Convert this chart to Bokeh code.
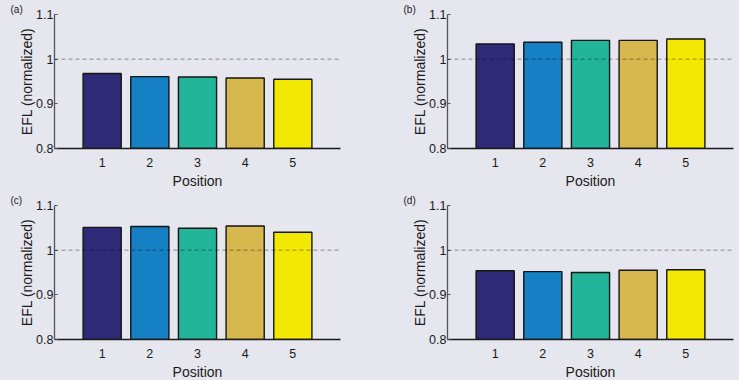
from bokeh.plotting import figure
from bokeh.models import Range1d, FixedTicker, Span, ColumnDataSource
from bokeh.layouts import gridplot
from bokeh.embed import file_html
from bokeh.resources import INLINE

# ---- data ----
positions = [1, 2, 3, 4, 5]
x_tick_labels = ["1", "2", "3", "4", "5"]
bar_colors = ["#2e2a78", "#1580c4", "#22b59a", "#d6b84e", "#f2e804"]
panel_a = [0.968, 0.961, 0.960, 0.958, 0.955]
panel_b = [1.034, 1.038, 1.042, 1.042, 1.045]
panel_c = [1.051, 1.053, 1.049, 1.054, 1.040]
panel_d = [0.954, 0.952, 0.950, 0.955, 0.956]
panel_names = ["(a)", "(b)", "(c)", "(d)"]
y_ticks = [0.8, 0.9, 1.0, 1.1]
y_tick_labels = ["0.8", "0.9", "1", "1.1"]
reference_level = 1.0
x_label = "Position"
y_label = "EFL (normalized)"

BG = "#e6e6ee"
FONT = "Liberation Sans"
TXT = "#1a1a1a"


def make_panel(vals, name, left_border, right_border, top_border, bottom_border):
    p = figure(frame_width=286, frame_height=134,
               x_range=Range1d(0, 6), y_range=Range1d(0.8, 1.1),
               output_backend="svg", toolbar_location=None,
               min_border_left=left_border, min_border_right=right_border,
               min_border_top=top_border, min_border_bottom=bottom_border,
               background_fill_color=BG, border_fill_color=BG,
               outline_line_color=None)
    p.xgrid.visible = False
    p.ygrid.visible = False

    src = ColumnDataSource(dict(x=positions, top=vals, color=bar_colors))
    p.vbar(x="x", top="top", bottom=0.8, width=0.8, source=src,
           fill_color="color", line_color="#151515", line_width=1.4)

    p.add_layout(Span(location=reference_level, dimension="width",
                      line_color="black", line_alpha=0.4,
                      line_dash="4 3", line_width=1))

    # x axis
    xa = p.xaxis[0]
    xa.ticker = FixedTicker(ticks=positions)
    xa.major_label_overrides = {k: v for k, v in zip(positions, x_tick_labels)}
    xa.major_tick_in = 0
    xa.major_tick_out = 0
    xa.minor_tick_in = 0
    xa.minor_tick_out = 0
    xa.axis_line_color = "#1a1a1a"
    xa.axis_line_width = 1.5
    xa.major_label_standoff = 9
    xa.major_label_text_font = FONT
    xa.major_label_text_font_size = "12.5px"
    xa.major_label_text_color = TXT
    xa.axis_label = x_label
    xa.axis_label_text_font = FONT
    xa.axis_label_text_font_size = "14px"
    xa.axis_label_text_font_style = "normal"
    xa.axis_label_text_color = TXT
    xa.axis_label_standoff = 3

    # y axis
    ya = p.yaxis[0]
    ya.ticker = FixedTicker(ticks=y_ticks)
    ya.major_label_overrides = {k: v for k, v in zip(y_ticks, y_tick_labels)}
    ya.major_tick_in = 3
    ya.major_tick_out = 0
    ya.minor_tick_in = 0
    ya.minor_tick_out = 0
    ya.major_tick_line_color = "#555555"
    ya.axis_line_color = "#555555"
    ya.axis_line_width = 1.3
    ya.major_label_standoff = 1
    ya.major_label_text_font = FONT
    ya.major_label_text_font_size = "12.5px"
    ya.major_label_text_color = TXT
    ya.axis_label = y_label
    ya.axis_label_text_font = FONT
    ya.axis_label_text_font_size = "14px"
    ya.axis_label_text_font_style = "normal"
    ya.axis_label_text_color = TXT
    ya.axis_label_standoff = -2

    # panel tag
    p.title.text = name
    p.title.align = "left"
    p.title.offset = -44
    p.title.standoff = 0
    p.title.text_font = FONT
    p.title.text_font_size = "10px"
    p.title.text_font_style = "normal"
    p.title.text_color = TXT
    return p


pa = make_panel(panel_a, panel_names[0], 54, 60, 14, 44)
pb = make_panel(panel_b, panel_names[1], 47, 6, 14, 44)
pc = make_panel(panel_c, panel_names[2], 54, 60, 12, 42)
pd = make_panel(panel_d, panel_names[3], 47, 6, 12, 42)

grid = gridplot([[pa, pb], [pc, pd]], toolbar_location=None)

html = file_html(grid, INLINE)
html = html.replace("<head>", "<head><style>body{background:%s;}</style>" % BG, 1)
open("out.html", "w").write(html)
